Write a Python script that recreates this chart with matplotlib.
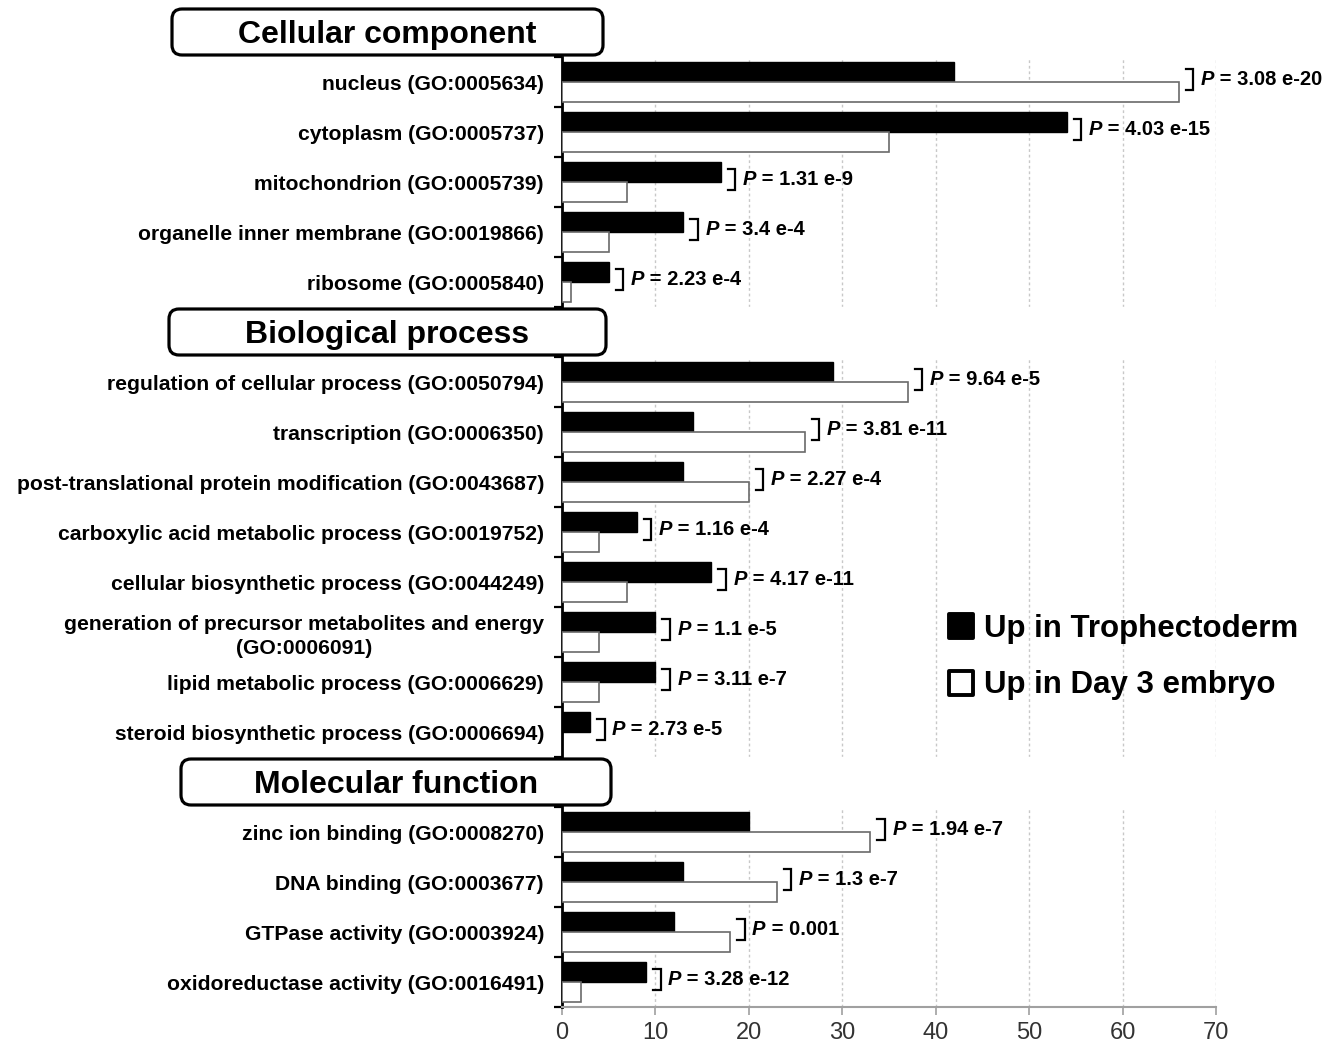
import matplotlib.pyplot as plt
import matplotlib.transforms as mtransforms
from matplotlib.patches import FancyBboxPatch
from matplotlib.lines import Line2D
from matplotlib.markers import MarkerStyle

plt.rcParams['font.family'] = ['Liberation Sans', 'DejaVu Sans']

# data
headings = ['Cellular component', 'Biological process', 'Molecular function']

cc_terms = ['nucleus (GO:0005634)', 'cytoplasm (GO:0005737)', 'mitochondrion (GO:0005739)',
            'organelle inner membrane (GO:0019866)', 'ribosome (GO:0005840)']
cc_tro = [42, 54, 17, 13, 5]
cc_d3 = [66, 35, 7, 5, 1]
cc_p = ['3.08 e-20', '4.03 e-15', '1.31 e-9', '3.4 e-4', '2.23 e-4']

bp_terms = ['regulation of cellular process (GO:0050794)', 'transcription (GO:0006350)',
            'post-translational protein modification (GO:0043687)',
            'carboxylic acid metabolic process (GO:0019752)',
            'cellular biosynthetic process (GO:0044249)',
            'generation of precursor metabolites and energy\n(GO:0006091)',
            'lipid metabolic process (GO:0006629)', 'steroid biosynthetic process (GO:0006694)']
bp_tro = [29, 14, 13, 8, 16, 10, 10, 3]
bp_d3 = [37, 26, 20, 4, 7, 4, 4, 0]
bp_p = ['9.64 e-5', '3.81 e-11', '2.27 e-4', '1.16 e-4', '4.17 e-11', '1.1 e-5', '3.11 e-7', '2.73 e-5']

mf_terms = ['zinc ion binding (GO:0008270)', 'DNA binding (GO:0003677)',
            'GTPase activity (GO:0003924)', 'oxidoreductase activity (GO:0016491)']
mf_tro = [20, 13, 12, 9]
mf_d3 = [33, 23, 18, 2]
mf_p = ['1.94 e-7', '1.3 e-7', '0.001', '3.28 e-12']

legend_labels = ['Up in Trophectoderm', 'Up in Day 3 embryo']

W, H = 1334, 1044
fig = plt.figure(figsize=(W / 100, H / 100), dpi=100)
ax = fig.add_axes([562 / W, 37 / H, 654 / W, 950 / H])

# lay out slots: a heading slot before each section
slots, terms, tro, d3, pv, head_slots, boundaries = [], [], [], [], [], [], []
s = 0
for t, a, b, p in [(cc_terms, cc_tro, cc_d3, cc_p), (bp_terms, bp_tro, bp_d3, bp_p),
                   (mf_terms, mf_tro, mf_d3, mf_p)]:
    head_slots.append(s)
    s += 1
    boundaries.append(s - 0.5)
    for i in range(len(t)):
        slots.append(s)
        terms.append(t[i]); tro.append(a[i]); d3.append(b[i]); pv.append(p[i])
        boundaries.append(s + 0.5)
        s += 1

bh = 0.4
ax.barh([y - bh / 2 for y in slots], tro, height=bh, color='black', edgecolor='black',
        linewidth=1, zorder=3)
ax.barh([y + bh / 2 for y in slots], d3, height=bh, color='white',
        edgecolor=['#6a6a6a' if v > 0 else 'none' for v in d3],
        linewidth=1.2, zorder=3)

# white bands over heading rows inside the axes
for hs in head_slots[1:]:
    ax.axhspan(hs - 0.5, hs + 0.5, color='white', zorder=1)

# p-value brackets
for y, a, b, p in zip(slots, tro, d3, pv):
    x0 = max(a, b) + 0.75
    yc = y - 0.06
    ax.plot([x0, x0 + 0.8, x0 + 0.8, x0], [yc - 0.21, yc - 0.21, yc + 0.21, yc + 0.21],
            color='black', lw=1.6, solid_joinstyle='miter', zorder=4, clip_on=False)
    t1 = ax.text(x0 + 1.6, yc, 'P', fontsize=14.5, fontweight='bold', fontstyle='italic',
                 va='center', ha='left', zorder=4)
    ax.annotate(' = ' + p, xy=(1, 0.5), xycoords=t1, va='center', ha='left',
                fontsize=14.5, fontweight='bold', zorder=4)

ax.set_xlim(0, 70)
ax.set_ylim(19.5, 0.5)
ax.set_xticks(range(0, 71, 10))
ax.set_yticks(slots)
ax.set_yticklabels(terms, fontsize=15.2, fontweight='bold')
for lab in ax.get_yticklabels():
    if '\n' in lab.get_text():
        lab.set_multialignment('center')
        lab.set_linespacing(1.35)
ax.set_yticks(boundaries, minor=True)
ax.tick_params(axis='y', which='major', length=0, pad=13)
ax.tick_params(axis='y', which='minor', length=6, width=1.6, color='black', direction='out')
ax.tick_params(axis='x', length=6, width=1.2, color='#a0a0a0', labelsize=17,
               labelcolor='#333333', pad=5)
ax.grid(axis='x', color='#c8c8c8', linestyle=(0, (2, 2)), linewidth=1)
ax.set_axisbelow(True)
for side in ['top', 'right']:
    ax.spines[side].set_visible(False)
ax.spines['left'].set_linewidth(2)
ax.spines['left'].set_color('black')
ax.spines['bottom'].set_linewidth(1.5)
ax.spines['bottom'].set_color('#a0a0a0')

# heading boxes (pixel coordinates)
pix = mtransforms.Affine2D().scale(1 / W, 1 / H) + fig.transFigure
boxes = [(172, 431, 387), (169, 437, 387), (181, 430, 396)]
for hs, name, (bx, bw, cx) in zip(head_slots, headings, boxes):
    cy = H - (57 + (hs - 0.5) * 50)
    fig.add_artist(FancyBboxPatch((bx, cy - 23), bw, 46,
                                  boxstyle='round,pad=0,rounding_size=10',
                                  transform=pix, facecolor='white', edgecolor='black',
                                  linewidth=2.3, zorder=5))
    fig.text(cx, cy - 3, name, transform=pix, ha='center', va='center', fontsize=23,
             fontweight='bold', zorder=6)

# legend
handles = [Line2D([], [], linestyle='none', marker=MarkerStyle('s', joinstyle='round'),
                  markersize=17, markerfacecolor='black', markeredgecolor='black',
                  markeredgewidth=2.8),
           Line2D([], [], linestyle='none', marker=MarkerStyle('s', joinstyle='round'),
                  markersize=17, markerfacecolor='white', markeredgecolor='black',
                  markeredgewidth=2.8)]
fig.legend(handles, legend_labels, loc='center left',
           bbox_to_anchor=(917 / W, 1 - 657 / H), frameon=False,
           prop={'size': 22.5, 'weight': 'bold'}, handletextpad=0.25, labelspacing=0.86,
           handlelength=1.0)

fig.savefig('out.png', dpi=100)
